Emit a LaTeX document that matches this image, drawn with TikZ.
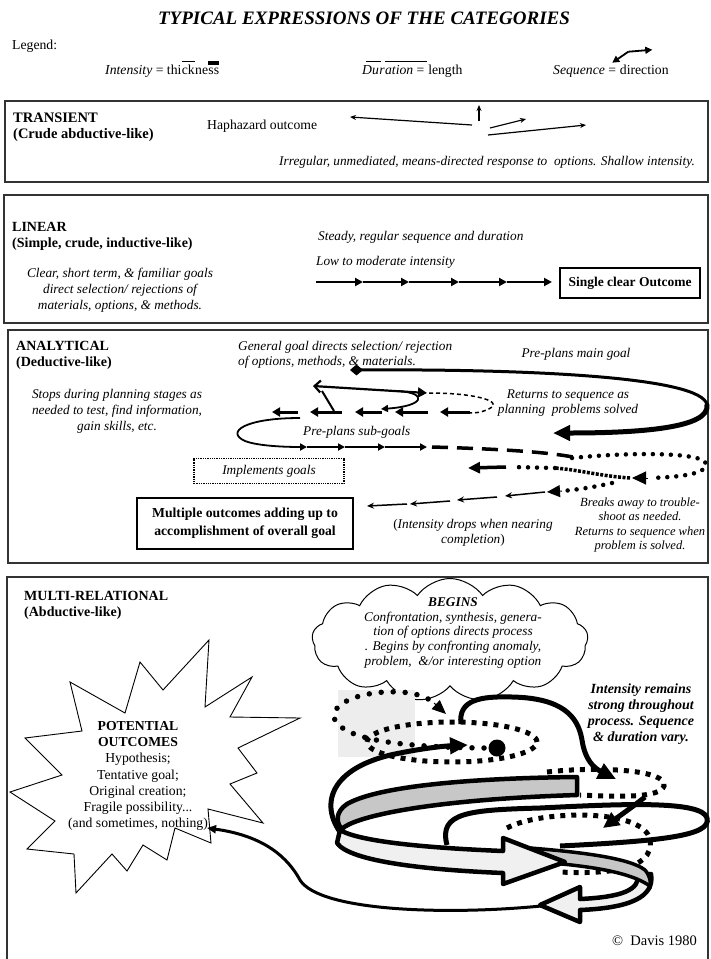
\documentclass[tikz,border=0pt]{standalone}
\usepackage{fontspec}
\setmainfont{Liberation Serif}
\usetikzlibrary{arrows.meta,shapes.symbols,shapes.geometric,calc}

\newcommand{\fsz}[2]{\fontsize{#1}{#2}\selectfont}

\tikzset{
  panel/.style={draw=black!80, line width=1.1pt},
  hd/.style={font=\fsz{14}{16}\bfseries, anchor=west, align=left, inner sep=0pt},
  rm/.style={font=\fsz{13.7}{16}, inner sep=0pt},
  itx/.style={font=\fsz{13.3}{16}\itshape, inner sep=0pt, align=center},
  bix/.style={font=\fsz{14}{16}\bfseries\itshape, inner sep=0pt, align=center},
  fine arrow/.style={line width=1.2pt, -{Stealth[length=6pt,width=5pt]}},
  seq arrow/.style={line width=1.8pt, -{Triangle[length=7pt,width=7pt]}},
  dash arrow/.style={line width=3pt, -{Triangle[length=8pt,width=9pt]}},
  bigdots/.style={line width=4.5pt, line cap=round, dash pattern=on 0pt off 9pt},
  rdots/.style={line width=5.5pt, line cap=round, dash pattern=on 0pt off 12pt},
  sqdots/.style={line width=5pt, dash pattern=on 5pt off 6pt},
  heavy/.style={line width=5pt},
  ribbon/.style={draw, line width=4.5pt, line join=round},
}

\begin{document}
\begin{tikzpicture}[x=1pt,y=-1pt]
\useasboundingbox (0,0) rectangle (710,959);
\fill[white] (0,0) rectangle (710,959);

% ---------- title and legend ----------
\node[font=\fsz{19}{21}\bfseries\itshape, inner sep=0pt] (title) at (364,18) {TYPICAL EXPRESSIONS OF THE CATEGORIES};

\node[rm, anchor=west] (legend) at (12,46) {Legend:};
% intensity: thin and thick bars over the word
\node[rm, anchor=base west] (lgi1) at (105,74) {\textit{Intensity} = thi};
\node[rm, anchor=base west] (lgi2) at (lgi1.base east) {ck};
\node[rm, anchor=base west] (lgi3) at (lgi2.base east) {ne};
\node[rm, anchor=base west] (lgi4) at (lgi3.base east) {ss};
\draw[line width=1pt] ([yshift=3pt]lgi2.north west) -- ([yshift=3pt]lgi2.north east);
\draw[line width=3.5pt] ([yshift=4.5pt]lgi4.north west) -- ([yshift=4.5pt]lgi4.north east);
% duration: short and long bars
\node[rm, anchor=base west] (lgd1) at (362,74) {\textit{Du}};
\node[rm, anchor=base west] (lgd2) at (lgd1.base east) {\textit{r}};
\node[rm, anchor=base west] (lgd3) at (lgd2.base east) {\textit{ation} =};
\node[rm, anchor=base west] (lgd4) at (lgd3.base east) {\ length};
\draw[line width=1pt] ([yshift=3pt,xshift=4pt]lgd1.north west) -- ([yshift=3pt,xshift=2pt]lgd1.north east);
\draw[line width=1pt] ([yshift=3pt]lgd3.north west) -- ([yshift=3pt,xshift=2pt]lgd3.north east);
% sequence: two arrows
\node[rm, anchor=base west] (lgs1) at (553,74) {\textit{Sequence} =};
\node[rm, anchor=base west] (lgs2) at (lgs1.base east) {\ direction};
\coordinate (sq0) at ($(lgs1.north east)+(12,-13)$);
\coordinate (sqa) at ($(lgs1.north east)+(-4,-2)$);
\coordinate (sqb) at ($(sq0)+(24,-2)$);
\draw[line width=1.8pt, -{Triangle[length=7pt,width=7pt]}] (sq0) -- (sqa);
\draw[line width=1.8pt, -{Triangle[length=7pt,width=7pt]}] (sq0) -- (sqb);

% ---------- transient ----------
\draw[panel] (5,101) rectangle (708,182);
\node[hd, font=\fsz{14.5}{15.5}\bfseries] (trh) at (13,127) {TRANSIENT\\(Crude abductive-like)};
\node[rm, anchor=west] (hap) at (207,126) {Haphazard outcome};
\draw[fine arrow] (472,125) -- (350,117);
\draw[fine arrow] (479,121) -- (479,105);
\draw[fine arrow] (490,128) -- (526,119);
\draw[fine arrow] (488,135) -- (586,125);
\node[itx, anchor=east] (trn) at (695,162) {Irregular, unmediated, means-directed response to\ \ options. Shallow intensity.};

% ---------- linear ----------
\draw[panel] (4,195) rectangle (708,323);
\node[hd] (lih) at (12,236) {LINEAR\\(Simple, crude, inductive-like)};
\node[itx] (lin) at (120,290) {Clear, short term, \& familiar goals\\direct selection/ rejections of\\materials, options, \& methods.};
\node[itx, anchor=west] (steady) at (318,237) {Steady, regular sequence and duration};
\node[itx, anchor=west] (lowmod) at (316,262) {Low to moderate intensity};
\node[draw, line width=2pt, font=\fsz{13.5}{15}\bfseries, minimum width=140pt, minimum height=30pt, inner sep=3pt] (single) at (630,283) {Single clear Outcome};
\foreach \a/\b in {316/363,363/409,409/459,459/507,507/552}
  \draw[line width=2.2pt, -{Triangle[length=8pt,width=8pt]}] (\a,282) -- (\b,282);

% ---------- analytical ----------
\draw[panel] (8,330) rectangle (708,563);
\node[hd] (anh) at (16,355) {ANALYTICAL\\(Deductive-like)};
\node[itx] (stops) at (117,411) {Stops during planning stages as\\needed to test, find information,\\gain skills, etc.};
\node[itx, anchor=west, align=left, font=\fsz{13.3}{15}\itshape] (gengoal) at (238,355) {General goal directs selection/ rejection\\of options, methods, \& materials.};
\node[itx] (mainplan) at (576,354) {Pre-plans main goal};
\node[itx, font=\fsz{13.3}{15}\itshape] (returns) at (568,403) {Returns to sequence as\\planning\ \ problems solved};
\node[itx, anchor=west] (subgoal) at (303,432) {Pre-plans sub-goals};
\node[itx, draw, densely dotted, line width=1.3pt, minimum width=150pt, minimum height=25pt] (impl) at (269,471) {Implements goals};
\node[font=\fsz{13.7}{18}\bfseries, align=center, draw, line width=2pt, minimum width=216pt, minimum height=51pt] (multi) at (245,523) {Multiple outcomes adding up to\\accomplishment of overall goal};
\node[itx, font=\fsz{13.3}{15}\itshape] (drops) at (473,533) {\textup{(}Intensity drops when nearing\\completion\textup{)}};
\node[itx, font=\fsz{12.5}{14.5}\itshape] (breaks) at (640,525) {Breaks away to trouble-\\shoot as needed.\\Returns to sequence when\\problem is solved.};

% main goal loop, thickening towards its end
\coordinate (dm) at (350,370);
\coordinate (dmturn) at (707,405);
\coordinate (dmend) at (553,433);
\draw[line width=3pt, line cap=round, {Diamond[length=13pt,width=11pt]}-] (dm) .. controls (520,369) and (703,376) .. (dmturn);
\draw[line width=5pt, line cap=round, -{Triangle[length=17pt,width=15pt]}] (dmturn) .. controls (710,428) and (640,433) .. (dmend);

% planning sequence
\draw[line width=2.2pt, {Straight Barb[length=6pt,width=12pt]}-{Triangle[length=9pt,width=10pt]}] (313,386) -- (427,393);
\draw[line width=2pt] (322,391) -- (334,411);
\draw[line width=1.8pt, -{Triangle[length=7pt,width=7pt]}] (398,391) .. controls (428,393) and (425,406) .. (381,409);
\draw[line width=1.5pt, dash pattern=on 4pt off 3pt] (429,393) .. controls (475,393) and (500,401) .. (492,407) .. controls (485,412) and (478,413) .. (468,413);
\foreach \a/\b in {470/440,428/395,382/355,342/310,298/272}
  \draw[dash arrow] (\a,412) -- (\b,412);

% sub-goal sequence
\draw[seq arrow] (300,418) .. controls (245,418) and (225,432) .. (245,441) .. controls (258,446) and (285,447) .. (307,447);
\foreach \a/\b in {307/345,345/385,385/427}
  \draw[seq arrow] (\a,447) -- (\b,447);
\draw[line width=3.5pt, dash pattern=on 16pt off 9pt] (432,447) .. controls (500,449) and (550,452) .. (578,458);

% trouble-shooting loops
\draw[bigdots] (572,458) .. controls (630,452) and (705,452) .. (706,464) .. controls (707,474) and (680,477) .. (650,478);
\draw[line width=1pt, -{Triangle[length=14pt,width=13pt]}] (648,478) -- (632,478);
\draw[line width=3.5pt, dash pattern=on 3pt off 1.5pt] (630,478) .. controls (600,476) and (580,470) .. (555,468);
\draw[bigdots] (555,468) -- (512,467);
\draw[line width=3.5pt, -{Triangle[length=12pt,width=11pt]}] (506,467) -- (468,468);
\draw[bigdots] (612,483) .. controls (595,487) and (575,490) .. (562,491);
\draw[line width=1pt, -{Triangle[length=13pt,width=12pt]}] (562,491) -- (547,492);
\foreach \a/\b/\c/\d in {545/492/505/496, 497/497/457/500, 450/501/410/504, 407/504/367/506}
  \draw[line width=1.5pt, -{Stealth[length=7pt,width=6pt]}] (\a,\b) -- (\c,\d);

% ---------- multi-relational ----------
\draw[panel] (7,965) -- (7,577) -- (708,577) -- (708,965);
\node[hd] (muh) at (24,605) {MULTI-RELATIONAL\\(Abductive-like)};

% burst of outcomes
\draw[line width=0.9pt, fill=white] (209,640) -- (205,707) -- (252,677) -- (230,717) -- (300,718) -- (238,748) -- (257,773) -- (230,784) -- (263,823) -- (208,809) -- (211,843) -- (175,828) -- (167,860) -- (143,845) -- (127,871) -- (112,854) -- (76,893) -- (74,854) -- (27,849) -- (55,821) -- (10,792) -- (62,775) -- (25,738) -- (82,731) -- (70,682) -- (125,713) -- (140,662) -- (163,690) -- cycle;
\node[font=\fsz{13.7}{16.3}, align=center, inner sep=0pt] (pot) at (138,776) {\textbf{POTENTIAL}\\\textbf{OUTCOMES}\\Hypothesis;\\Tentative goal;\\Original creation;\\Fragile possibility...\\(and sometimes, nothing)};

% the cloud
\node[cloud, draw, line width=1pt, fill=white, cloud puffs=13, cloud puff arc=110, aspect=2.3, minimum width=276pt, minimum height=123pt, inner sep=0pt] (cloud) at (450,640) {};
\node[itx, font=\fsz{13.3}{14.8}\itshape] (begins) at (453,633) {\textbf{BEGINS}\\Confrontation, synthesis, genera-\\tion of options directs process\\. Begins by confronting anomaly,\\problem,\ \ \&/or interesting option};

\node[bix] (strong) at (641,714) {Intensity remains\\strong throughout\\process. Sequence\\\& duration vary.};

% spiral of the process
\fill[black!7] (338,690) rectangle (415,757);
\draw[sqdots] (452,742) ellipse [x radius=85pt, y radius=20pt];
\draw[rdots] (484,748) .. controls (400,747) and (350,740) .. (336,722) .. controls (325,705) and (360,690) .. (400,692) .. controls (420,693) and (432,700) .. (436,705);
\draw[line width=1pt, -{Triangle[length=14pt,width=12pt]}] (434,703) -- (446,714);
\fill (497,748) circle[radius=8.5pt];

\draw[heavy, -{Triangle[length=18pt,width=16pt]}] (461,724) .. controls (458,700) and (480,696) .. (512,697) .. controls (562,698) and (578,716) .. (582,740) .. controls (585,760) and (594,768) .. (616,779);

\draw[heavy] (447,845) .. controls (438,812) and (470,810) .. (540,808) .. controls (620,804) and (702,800) .. (707,818) .. controls (712,836) and (660,841) .. (560,846);
\draw[sqdots] (507,828) .. controls (540,810) and (645,808) .. (650,840) .. controls (655,872) and (600,874) .. (560,872);
\draw[sqdots] (547,772) .. controls (600,766) and (668,770) .. (664,786) .. controls (660,798) and (620,797) .. (580,795);
\draw[heavy, -{Triangle[length=16pt,width=15pt]}] (645,797) .. controls (635,805) and (625,812) .. (603,828);

\draw[ribbon, fill=black!22] (577,777) .. controls (480,778) and (380,785) .. (347,804) .. controls (335,812) and (336,823) .. (342,829) .. controls (352,818) and (420,800) .. (577,795) -- cycle;
\draw[heavy, -{Triangle[length=18pt,width=16pt]}] (340,832) .. controls (318,800) and (335,765) .. (400,753) .. controls (425,748) and (445,746) .. (468,745);

\draw[ribbon, fill=black!6] (651,874) .. controls (655,897) and (630,908) .. (580,910) -- (580,922) -- (540,905) -- (580,887) -- (580,899) .. controls (622,897) and (640,890) .. (638,874) -- cycle;
\draw[line width=3.5pt, fill=black!22] (530,848) .. controls (580,852) and (630,858) .. (645,870) .. controls (650,876) and (651,882) .. (650,886) .. controls (630,872) and (590,866) .. (540,862) -- cycle;
\draw[ribbon, fill=black!6] (340,830) .. controls (360,842) and (430,848) .. (503,851) -- (503,838) -- (565,862) -- (503,884) -- (503,873) .. controls (430,870) and (350,862) .. (337,843) -- cycle;

\coordinate (lowtip) at (541,906);
\coordinate (bursttip) at (207,828);
\draw[line width=3pt, -{Triangle[length=9pt,width=8pt]}] (lowtip) .. controls (450,915) and (320,912) .. (300,880) .. controls (288,858) and (265,836) .. (bursttip);

\node[font=\fsz{14.5}{16}, inner sep=0pt, anchor=east] (copy) at (697,941) {©\ \ Davis 1980};
\end{tikzpicture}
\end{document}
